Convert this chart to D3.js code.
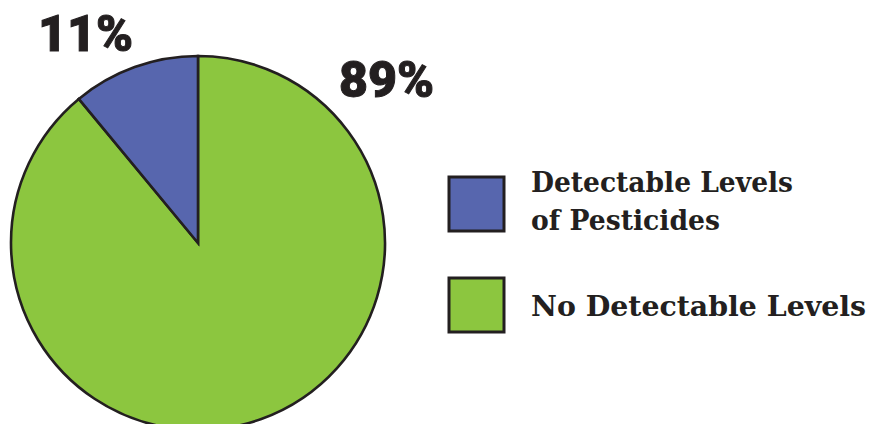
<!DOCTYPE html>
<html>
<head>
<meta charset="utf-8">
<script src="https://cdn.jsdelivr.net/npm/d3@7"></script>
<style>
  body { margin: 0; background: #fff; }
</style>
</head>
<body>
<div id="chart"></div>
<script>
const width = 872
const height = 424

const categories = ['Detectable Levels of Pesticides', 'No Detectable Levels']
const legendLines = [['Detectable Levels', 'of Pesticides'], ['No Detectable Levels']]
const values = [11, 89]
const pctLabels = ['11%', '89%']
const colors = ['#5766ae', '#8cc63f']

const cx = 198
const cy = 243
const radius = 187

const svg = d3.select('#chart')
  .append('svg')
  .attr('width', width)
  .attr('height', height)

const color = d3.scaleOrdinal().domain(categories).range(colors)

// blue slice sits just left of 12 o'clock, so draw green first going clockwise
const slices = categories.map((c, i) => ({ cat: c, value: values[i] })).reverse()

const pie = d3.pie().sort(null).value(d => d.value)
const arc = d3.arc().innerRadius(0).outerRadius(radius)

svg.append('g')
  .attr('transform', `translate(${cx},${cy})`)
  .selectAll('path')
  .data(pie(slices))
  .enter().append('path')
  .attr('d', arc)
  .attr('fill', d => color(d.data.cat))
  .attr('stroke', '#231f20')
  .attr('stroke-width', 2.6)
  .attr('stroke-linejoin', 'miter')

// percentage labels
const pctPos = [[38, 51], [339, 97]]
svg.selectAll('.pct')
  .data(pctLabels)
  .enter().append('text')
  .attr('class', 'pct')
  .attr('x', (d, i) => pctPos[i][0])
  .attr('y', (d, i) => pctPos[i][1])
  .attr('font-family', 'Roboto, "DejaVu Sans", sans-serif')
  .attr('font-weight', 900)
  .attr('font-size', 50)
  .attr('fill', '#231f20')
  .attr('stroke', '#231f20')
  .attr('stroke-width', 1)
  .text(d => d)

// legend
const lineWidths = { 'Detectable Levels': 262, 'of Pesticides': 189, 'No Detectable Levels': 335 }

const legend = svg.selectAll('.legend')
  .data(categories)
  .enter().append('g')
  .attr('class', 'legend')
  .attr('transform', (d, i) => `translate(449,${177 + i * 101})`)

legend.append('rect')
  .attr('width', 55)
  .attr('height', 54)
  .attr('fill', d => color(d))
  .attr('stroke', '#231f20')
  .attr('stroke-width', 3)

legend.each(function(d, i) {
  const lines = legendLines[i]
  const g = d3.select(this)
  lines.forEach((l, j) => {
    g.append('text')
      .attr('font-family', '"DejaVu Serif", "Liberation Serif", serif')
      .attr('font-weight', 'bold')
      .attr('font-size', 27)
      .attr('fill', '#231f20')
      .attr('x', 82)
      .attr('y', (lines.length === 1 ? 38 : 15) + j * 38)
      .attr('textLength', lineWidths[l])
      .attr('lengthAdjust', 'spacingAndGlyphs')
      .text(l)
  })
})
</script>
</body>
</html>
